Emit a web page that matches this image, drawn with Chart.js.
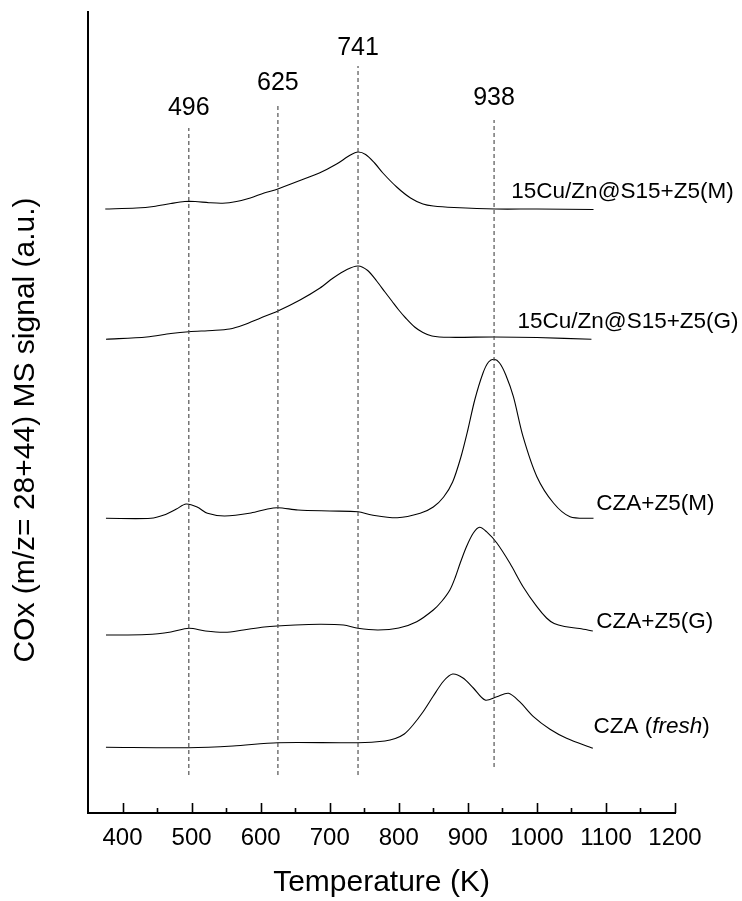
<!DOCTYPE html>
<html>
<head>
<meta charset="utf-8">
<script src="https://cdn.jsdelivr.net/npm/chart.js@4.4.1/dist/chart.umd.min.js"></script>
<style>
  html, body { margin: 0; padding: 0; background: #fff; }
  #wrap { position: relative; width: 742px; height: 901px; }
</style>
</head>
<body>
<div id="wrap"><canvas id="tpo"></canvas></div>
<script>
// TPO profiles: temperature (K) and COx signal (a.u., stacked offsets)
const tempCuM = [375, 420, 445, 470, 490, 505, 525, 545, 565, 585, 605, 625, 655, 685, 710, 730, 741, 752, 765, 777, 797, 817, 835, 850, 880, 940, 1000, 1082];
const sigCuM  = [604, 605, 606.5, 609.5, 611.5, 611.5, 610.3, 609.8, 611.5, 615, 620, 624, 632, 640, 649, 658, 661, 658.5, 650, 640, 626, 615, 609, 607, 605.5, 604, 604, 603.5];

const tempCuG = [376, 435, 470, 496, 530, 555, 575, 600, 625, 657, 686, 705, 725, 741, 755, 768, 780, 790, 800, 810, 823, 835, 848, 873, 938, 1000, 1079];
const sigCuG  = [473.7, 476, 479.5, 481.3, 482.5, 484, 488, 495, 502, 513, 525, 535, 543.5, 547, 542.5, 532, 521, 512, 503, 495, 486, 480.5, 477, 475.7, 476, 475.5, 473.7];

const tempCzaM = [376, 441, 460, 478, 492, 508, 523, 548, 586, 610, 625, 654, 700, 741, 761, 798, 831, 850, 865, 878, 890, 900, 910, 922, 930, 938, 946, 955, 966, 980, 1000, 1024, 1048, 1082];
const sigCzaM  = [294.7, 294.7, 298, 304, 309, 306, 299.7, 297, 300, 304, 305.3, 303, 302, 301.3, 298, 295.3, 299.7, 306, 316, 331, 356, 383, 413, 440, 451, 453.7, 450, 438, 416.3, 376.3, 336.3, 310, 296.3, 294.7];

const tempCzaG = [376, 435, 470, 496, 520, 548, 575, 605, 650, 686, 720, 741, 770, 800, 826, 850, 862, 874, 882, 889, 898, 908, 917, 927, 942, 961, 980, 1000, 1014, 1025, 1040, 1062, 1081];
const sigCzaG  = [178, 178.5, 181, 184.7, 182, 180.7, 183, 186, 188, 188.7, 188, 184.7, 183, 185, 191.3, 203, 211.5, 223, 236, 250, 266.3, 280, 285.7, 281.3, 270, 249.7, 226.3, 206.3, 195, 189.5, 186.5, 184.5, 182];

const tempCza = [376, 496, 560, 625, 741, 780, 795, 808, 820, 835, 850, 865, 878, 893, 908, 925, 942, 959, 975, 995, 1019, 1043, 1081];
const sigCza  = [65.7, 65.3, 67, 70.3, 70.3, 72, 74.5, 79, 87.5, 101, 117, 132, 139, 135, 125, 113, 116.3, 119.7, 111.3, 96.3, 83.7, 74.7, 64.7];

// peak temperatures marked with dashed guides
const peakTemps = [496, 625, 741, 938];

const xTickStep = 50;
const xMin = 350, xMax = 1200;

// guide extents and label heights, in signal units
const guideTop = [685, 708, 747, 693];
const guideBottom = [38, 38, 38, 46];
const peakLabelY = [705, 730, 765, 715];

// sample names placed at the right end of each trace
const sampleLabels = [
  { parts: [['15Cu/Zn@S15+Z5(M)', false]], x: 963, y: 621 },
  { parts: [['15Cu/Zn@S15+Z5(G)', false]], x: 972, y: 491 },
  { parts: [['CZA+Z5(M)', false]], x: 1086, y: 309 },
  { parts: [['CZA+Z5(G)', false]], x: 1086, y: 191 },
  { parts: [['CZA (', false], ['fresh', true], [')', false]], x: 1082, y: 86 }
];

const yTitle = 'COx (m/z= 28+44) MS signal (a.u.)';

const FAMILY = '"Liberation Sans", Arial, Helvetica, sans-serif';
Chart.defaults.font.family = FAMILY;
Chart.defaults.color = '#000';

const toPoints = (ts, ss) => ts.map((t, i) => ({ x: t, y: ss[i] }));

const traces = [
  [tempCuM, sigCuM], [tempCuG, sigCuG], [tempCzaM, sigCzaM], [tempCzaG, sigCzaG], [tempCza, sigCza]
].map(([t, s]) => ({
  data: toPoints(t, s),
  borderColor: '#000',
  borderWidth: 1.1,
  pointRadius: 0,
  tension: 0.3,
  fill: false
}));

const guides = peakTemps.map((t, i) => ({
  data: [{ x: t, y: guideBottom[i] }, { x: t, y: guideTop[i] }],
  borderColor: '#444',
  borderWidth: 1.1,
  borderDash: [4, 3],
  pointRadius: 0,
  fill: false
}));

const annotate = {
  id: 'annotate',
  afterDatasetsDraw(chart) {
    const { ctx, scales: { x, y } } = chart;
    ctx.save();
    ctx.fillStyle = '#000';
    ctx.textBaseline = 'middle';

    ctx.font = `25px ${FAMILY}`;
    ctx.textAlign = 'center';
    peakTemps.forEach((t, i) => {
      ctx.fillText(String(t), x.getPixelForValue(t), y.getPixelForValue(peakLabelY[i]));
    });

    ctx.textAlign = 'left';
    sampleLabels.forEach(lbl => {
      let px = x.getPixelForValue(lbl.x);
      const py = y.getPixelForValue(lbl.y);
      lbl.parts.forEach(([txt, italic]) => {
        ctx.font = `${italic ? 'italic ' : ''}22.5px ${FAMILY}`;
        ctx.fillText(txt, px, py);
        px += ctx.measureText(txt).width;
      });
    });

    // vertical axis title, a little below the plot centre
    ctx.save();
    ctx.translate(26, 430);
    ctx.rotate(-Math.PI / 2);
    ctx.textAlign = 'center';
    ctx.font = `30px ${FAMILY}`;
    ctx.fillText(yTitle, 0, 0);
    ctx.restore();

    // inward tick marks on the temperature axis
    ctx.strokeStyle = '#000';
    ctx.lineWidth = 1.6;
    const base = chart.chartArea.bottom;
    x.ticks.forEach(tk => {
      if (tk.value <= xMin) return;
      const px = Math.round(x.getPixelForValue(tk.value)) + 0.5;
      const len = tk.value % 100 === 0 ? 10 : 5;
      ctx.beginPath();
      ctx.moveTo(px, base);
      ctx.lineTo(px, base - len);
      ctx.stroke();
    });
    ctx.restore();
  }
};

new Chart(document.getElementById('tpo'), {
  type: 'line',
  data: { datasets: [...guides, ...traces] },
  options: {
    responsive: true,
    maintainAspectRatio: false,
    animation: false,
    layout: { padding: { top: 12, right: 67, bottom: 0, left: 0 } },
    plugins: { legend: { display: false }, tooltip: { enabled: false } },
    scales: {
      x: {
        type: 'linear',
        min: xMin,
        max: xMax,
        grid: { display: false, drawTicks: false },
        border: { display: true, color: '#000', width: 2 },
        ticks: {
          stepSize: xTickStep,
          autoSkip: false,
          maxRotation: 0,
          minRotation: 0,
          padding: 11,
          color: '#000',
          font: { size: 24 },
          callback: v => (v % 100 === 0 ? String(v) : '')
        },
        title: { display: true, text: 'Temperature (K)', color: '#000', font: { size: 30 }, padding: { top: 0, bottom: 0 } },
        afterFit: s => { s.height = 88; }
      },
      y: {
        type: 'linear',
        min: 0,
        max: 801,
        grid: { display: false, drawTicks: false },
        border: { display: true, color: '#000', width: 2 },
        ticks: { display: false },
        title: { display: false },
        afterFit: s => { s.width = 88; }
      }
    }
  },
  plugins: [annotate]
});
</script>
</body>
</html>
